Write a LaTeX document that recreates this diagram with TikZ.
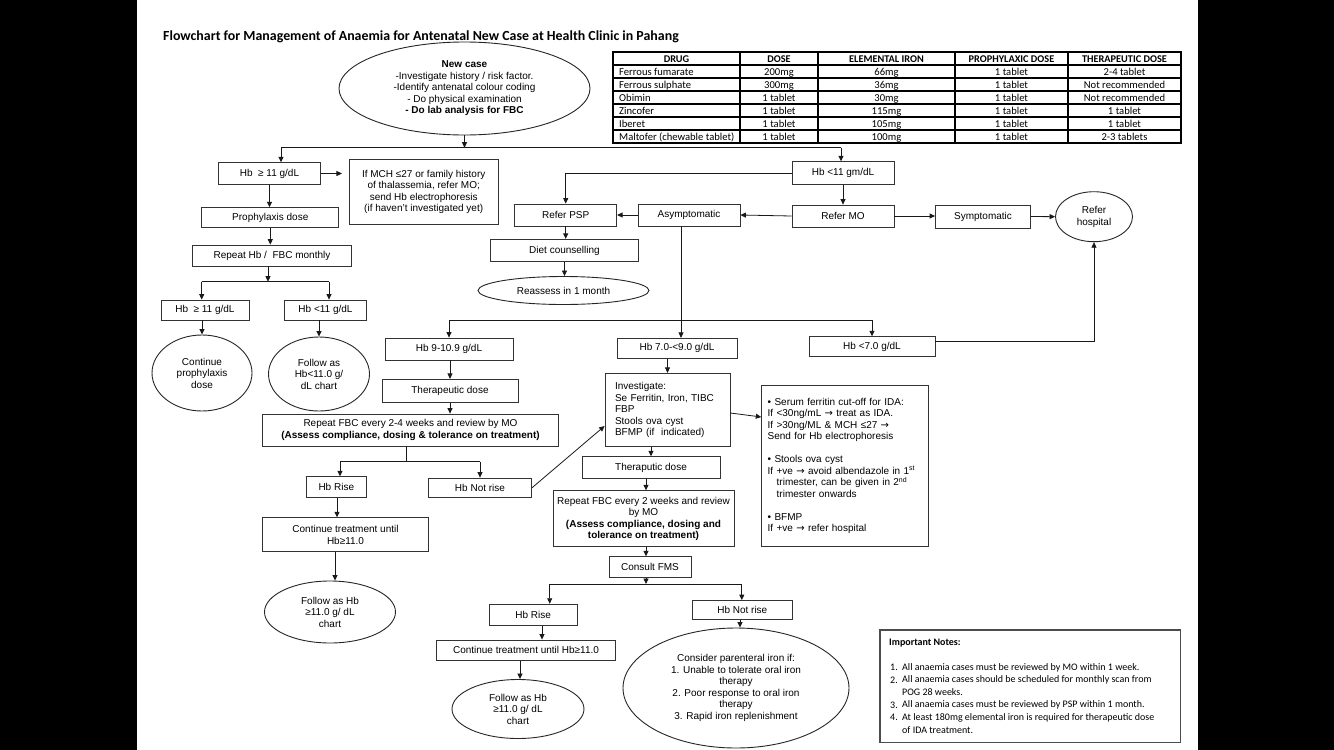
\documentclass[tikz,border=0pt]{standalone}
\usepackage{fontspec}
\setmainfont{Liberation Sans}
\newfontfamily\calfont{Carlito}
\newfontfamily\djvfont{DejaVu Sans}
\usetikzlibrary{arrows.meta,shapes.geometric,calc}
\newcommand{\ftx}{\fontsize{10}{11.5}\selectfont}
\newcommand{\rarr}{{\djvfont →}}
\begin{document}
\begin{tikzpicture}[x=1pt,y=-1pt,
  flbox/.style={draw=black!80, line width=0.8pt, rectangle, inner sep=0pt, align=center, font=\ftx},
  flell/.style={draw=black!85, line width=0.9pt, ellipse, inner sep=0pt, align=center, font=\ftx},
  flarr/.style={draw=black!90, line width=0.8pt, -{Triangle[length=5.5pt,width=5pt]}},
  flln/.style={draw=black!90, line width=0.8pt},
  tcell/.style={inner sep=0pt, anchor=base, font=\calfont\fontsize{10.6}{12}\selectfont},
  thead/.style={inner sep=0pt, anchor=base, font=\calfont\bfseries\fontsize{10.3}{12}\selectfont},
  nt/.style={inner sep=0pt, anchor=west, font=\calfont\fontsize{10}{11}\selectfont}]
\useasboundingbox (0,0) rectangle (1334,750);
\fill[black] (0,0) rectangle (137,750);
\fill[white] (137,0) rectangle (1198,750);
\fill[black] (1198,0) rectangle (1334,750);

% title
\node[anchor=base west, inner sep=0pt, font=\calfont\bfseries\fontsize{13.9}{15}\selectfont] (title) at (163,40)
  {Flowchart for Management of Anaemia for Antenatal New Case at Health Clinic in Pahang};

% table
\draw[line width=1.5pt] (613,52) rectangle (1181,143);
\foreach \x in {740,818,955,1068} \draw[line width=1.1pt] (\x,52) -- (\x,143);
\foreach \y in {65,78,91,104,117,130} \draw[line width=1.1pt] (613,\y) -- (1181,\y);
\node[thead] (h0) at (676.5,62) {DRUG};
\node[thead] (h1) at (779,62) {DOSE};
\node[thead] (h2) at (886.5,62) {ELEMENTAL IRON};
\node[thead] (h3) at (1011.5,62) {PROPHYLAXIC DOSE};
\node[thead] (h4) at (1124.5,62) {THERAPEUTIC DOSE};
\foreach \r/\a/\b/\c/\d/\e in {1/Ferrous fumarate/200mg/66mg/1 tablet/2-4 tablet,
  2/Ferrous sulphate/300mg/36mg/1 tablet/Not recommended,
  3/Obimin/1 tablet/30mg/1 tablet/Not recommended,
  4/Zincofer/1 tablet/115mg/1 tablet/1 tablet,
  5/Iberet/1 tablet/105mg/1 tablet/1 tablet,
  6/Maltofer (chewable tablet)/1 tablet/100mg/1 tablet/2-3 tablets}{
  \node[tcell, anchor=base west] (c\r a) at (619,{62+13*\r}) {\a};
  \node[tcell] (c\r b) at (779,{62+13*\r}) {\b};
  \node[tcell] (c\r c) at (886.5,{62+13*\r}) {\c};
  \node[tcell] (c\r d) at (1011.5,{62+13*\r}) {\d};
  \node[tcell] (c\r e) at (1124.5,{62+13*\r}) {\e};
}

% top
\node[flell, minimum width=251pt, minimum height=93pt] (newcase) at (464.5,88.5)
  {\textbf{New case}\\-Investigate history / risk factor.\\-Identify antenatal colour coding\\- Do physical examination\\\textbf{- Do lab analysis for FBC}};
\coordinate (j0) at (464.5,147.7);
\coordinate (jL) at (281,147.7);
\coordinate (jR) at (841,147.7);
\draw[flarr] (newcase.south) -- (j0);
\draw[flln] (jL) -- (jR);

% left branch
\node[flbox, minimum width=101.6pt, minimum height=21.6pt] (hbge) at (269.5,173.5) {Hb\ \ ≥ 11 g/dL};
\node[flbox, minimum width=148.7pt, minimum height=65.7pt] (mch) at (423.7,192)
  {If MCH ≤27 or family history\\of thalassemia, refer MO;\\send Hb electrophoresis\\(if haven’t investigated yet)};
\node[flbox, minimum width=137pt, minimum height=20pt] (prophy) at (270.3,217.7) {Prophylaxis dose};
\node[flbox, minimum width=159pt, minimum height=21pt] (repm) at (272,255.5) {Repeat Hb /\ \ FBC monthly};
\node[flbox, minimum width=88pt, minimum height=20pt] (hbge2) at (204.9,310) {Hb\ \ ≥ 11 g/dL};
\node[flbox, minimum width=82pt, minimum height=20pt] (hblt2) at (325.5,310) {Hb <11 g/dL};
\node[flell, minimum width=100pt, minimum height=76pt] (contp) at (202,373) {Continue\\prophylaxis\\dose};
\node[flell, minimum width=101pt, minimum height=74pt] (fol1) at (319,374) {Follow as\\Hb<11.0 g/\\dL chart};
\draw[flarr] (jL) -- (jL |- hbge.north);
\draw[flarr, shorten >=7pt] (hbge.east) -- (mch.west |- hbge.east);
\draw[flarr] (hbge.south) -- (hbge.south |- prophy.north);
\draw[flarr] (prophy.south) -- (prophy.south |- repm.north);
\coordinate (j1) at (268,281.7);
\coordinate (j1l) at (201.7,281.7);
\coordinate (j1r) at (329,281.7);
\draw[flarr] (repm.south -| j1) -- (j1);
\draw[flln] (j1l) -- (j1r);
\draw[flarr] (j1l) -- (j1l |- hbge2.north);
\draw[flarr] (j1r) -- (j1r |- hblt2.north);
\draw[flarr] (hbge2.south -| contp.north) -- (contp.north);
\draw[flarr] (hblt2.south -| fol1.north) -- (fol1.north);

% right branch
\node[flbox, minimum width=102pt, minimum height=22.6pt] (hblt11) at (843,173) {Hb <11 gm/dL};
\node[flbox, minimum width=102pt, minimum height=22pt] (refermo) at (843,216) {Refer MO};
\node[flbox, minimum width=102pt, minimum height=22pt] (asym) at (689,215) {Asymptomatic};
\node[flbox, minimum width=102pt, minimum height=22pt] (referpsp) at (565.7,215) {Refer PSP};
\node[flbox, minimum width=95pt, minimum height=23pt] (sympt) at (983,216.5) {Symptomatic};
\node[flell, minimum width=77pt, minimum height=50pt] (hosp) at (1094,216.7) {Refer\\hospital};
\node[flbox, minimum width=147.5pt, minimum height=22.4pt] (diet) at (564.5,250.5) {Diet counselling};
\node[flell, minimum width=171pt, minimum height=28pt] (reas) at (563.5,290.5) {Reassess in 1 month};
\draw[flarr] (jR) -- (jR |- hblt11.north);
\draw[flarr] (hblt11.west) -| (referpsp.north);
\draw[flarr] (hblt11.south) -- (refermo.north);
\draw[flarr] (refermo.west) -- (asym.east);
\draw[flarr] (asym.west) -- (referpsp.east);
\draw[flarr] (refermo.east) -- (sympt.west |- refermo.east);
\draw[flarr] (sympt.east) -- (hosp.west);
\draw[flarr] (referpsp.south) -- (referpsp.south |- diet.north);
\draw[flarr] (diet.south) -- (diet.south |- reas.north);

% Hb levels
\coordinate (j2l) at (449,320);
\coordinate (j2r) at (872,320);
\coordinate (va) at (681,0);
\draw[flln] (j2l) -- (j2r);
\node[flbox, minimum width=128pt, minimum height=22pt] (hb9) at (449,349) {Hb 9-10.9 g/dL};
\node[flbox, minimum width=120pt, minimum height=20pt] (hb7) at (677,348.3) {Hb 7.0-<9.0 g/dL};
\node[flbox, minimum width=126pt, minimum height=20pt] (hblt7) at (872,346.7) {Hb <7.0 g/dL};
\draw[flarr] (j2l) -- (hb9.north);
\draw[flarr] (j2r) -- (hblt7.north);
\draw[flarr] (asym.south -| va) -- (hb7.north -| va);
\draw[flarr] ([yshift=5.7pt]hblt7.east) -| (hosp.south);

% Hb 9-10.9 path
\node[flbox, minimum width=136pt, minimum height=23.4pt] (thera) at (450,391) {Therapeutic dose};
\node[flbox, minimum width=295.6pt, minimum height=32pt] (rep24) at (410.5,430)
  {Repeat FBC every 2-4 weeks and review by MO\\\textbf{(Assess compliance, dosing \& tolerance on treatment)}};
\draw[flarr] (hb9.south -| thera.north) -- (thera.north);
\draw[flarr] (thera.south) -- (thera.south |- rep24.north);
\coordinate (j3) at (406.7,461.7);
\coordinate (j3l) at (340,461.7);
\coordinate (j3r) at (480,461.7);
\draw[flln] (rep24.south -| j3) -- (j3);
\draw[flln] (j3l) -- (j3r);
\node[flbox, minimum width=60.7pt, minimum height=20.6pt] (hbrise) at (336.3,487) {Hb Rise};
\node[flbox, minimum width=103.4pt, minimum height=19.3pt] (hbnot) at (480,487.7) {Hb Not rise};
\draw[flarr] (j3l) -- (j3l |- hbrise.north);
\draw[flarr] (j3r) -- (j3r |- hbnot.north);
\node[flbox, minimum width=165.6pt, minimum height=34pt] (cont1) at (345.5,534.7) {Continue treatment until\\Hb≥11.0};
\coordinate (vf) at (337,0);
\draw[flarr] (hbrise.south -| vf) -- (cont1.north -| vf);
\node[flell, minimum width=131pt, minimum height=62pt] (fol2) at (330,612) {Follow as Hb\\≥11.0 g/ dL\\chart};
\coordinate (vg) at (335,0);
\draw[flarr] (cont1.south -| vg) -- (fol2.north -| vg);

% Hb 7-9 path
\node[flbox, minimum width=125pt, minimum height=73.4pt, align=left, text width=105pt, inner xsep=10pt] (invest) at (667.5,410)
  {Investigate:\\Se Ferritin, Iron, TIBC\\FBP\\Stools ova cyst\\BFMP (if\ \ indicated)};
\draw[flarr] (hb7.south -| invest.north) -- (invest.north);
\draw[flarr] (hbnot.east) -- ($(invest.west)+(0,16)$);
\node[flbox, minimum width=166.6pt, minimum height=161.7pt, align=left, text width=154.6pt, inner xsep=6pt] (ida) at (845,465.8)
  {\textbullet\ Serum ferritin cut-off for IDA:\\
   If <30ng/mL \rarr\ treat as IDA.\\
   If >30ng/ML \& MCH ≤27 \rarr\\
   Send for Hb electrophoresis\\[11.5pt]
   \textbullet\ Stools ova cyst\\
   If +ve \rarr\ avoid albendazole in 1\textsuperscript{st}\\
   \hspace*{9pt}trimester, can be given in 2\textsuperscript{nd}\\
   \hspace*{9pt}trimester onwards\\[11.5pt]
   \textbullet\ BFMP\\
   If +ve \rarr\ refer hospital};
\draw[flarr] ($(invest.east)+(0,3)$) -- ($(invest.east -| ida.west)+(0,7)$);
\node[flbox, minimum width=138pt, minimum height=21.6pt] (thrp) at (651,467.5) {Theraputic dose};
\draw[flarr] (invest.south -| thrp.north) -- (thrp.north);
\node[flbox, minimum width=181pt, minimum height=56pt] (rep2) at (643.5,518.7)
  {Repeat FBC every 2 weeks and review\\by MO\\\textbf{(Assess compliance, dosing and}\\\textbf{tolerance on treatment)}};
\coordinate (vb) at (646,0);
\draw[flarr] (thrp.south -| vb) -- (rep2.north -| vb);
\node[flbox, minimum width=82pt, minimum height=21pt] (consult) at (650,567.2) {Consult FMS};
\draw[flarr] (rep2.south -| vb) -- (consult.north -| vb);
\coordinate (j4) at (646,584);
\coordinate (j4l) at (549.7,584);
\coordinate (j4r) at (741.8,584);
\draw[flarr] (consult.south -| vb) -- (j4);
\draw[flln] (j4l) -- (j4r);
\node[flbox, minimum width=88pt, minimum height=21.7pt] (hbrise2) at (533.2,615) {Hb Rise};
\node[flbox, minimum width=100.7pt, minimum height=19pt] (hbnot2) at (742.3,610) {Hb Not rise};
\draw[flarr] (j4l) -- (j4l |- hbrise2.north);
\draw[flarr] (j4r) -- (j4r |- hbnot2.north);
\node[flbox, minimum width=178.7pt, minimum height=20.7pt] (cont2) at (526,650.3) {Continue treatment until Hb≥11.0};
\coordinate (vc) at (542,0);
\draw[flarr] (hbrise2.south -| vc) -- (cont2.north -| vc);
\node[flell, minimum width=132pt, minimum height=59pt] (fol3) at (518,709) {Follow as Hb\\≥11.0 g/ dL\\chart};
\coordinate (vd) at (520,0);
\draw[flarr] (cont2.south -| vd) -- (fol3.north -| vd);
\node[flell, minimum width=226pt, minimum height=120pt] (cons) at (736,688)
  {Consider parenteral iron if:\\1. Unable to tolerate oral iron\\therapy\\2. Poor response to oral iron\\therapy\\3. Rapid iron replenishment};
\coordinate (ve) at (740,0);
\draw[flarr] (hbnot2.south -| ve) -- (cons.north -| ve);

% notes
\node[draw=black!70, line width=1.2pt, minimum width=300.7pt, minimum height=112.7pt, inner sep=0pt] (notes) at (1030.3,686.3) {};
\node[nt, font=\calfont\bfseries\fontsize{10}{11}\selectfont] (ntitle) at (889,643) {Important Notes:};
\node[nt] (n1) at (890,667.5) {1.};
\node[nt] (n1t) at (902,667.5) {All anaemia cases must be reviewed by MO within 1 week.};
\node[nt] (n2) at (890,680) {2.};
\node[nt] (n2t) at (902,680) {All anaemia cases should be scheduled for monthly scan from};
\node[nt] (n2u) at (902,692.5) {POG 28 weeks.};
\node[nt] (n3) at (890,705) {3.};
\node[nt] (n3t) at (902,705) {All anaemia cases must be reviewed by PSP within 1 month.};
\node[nt] (n4) at (890,717.5) {4.};
\node[nt] (n4t) at (902,717.5) {At least 180mg elemental iron is required for therapeutic dose};
\node[nt] (n4u) at (902,730) {of IDA treatment.};
\end{tikzpicture}
\end{document}
